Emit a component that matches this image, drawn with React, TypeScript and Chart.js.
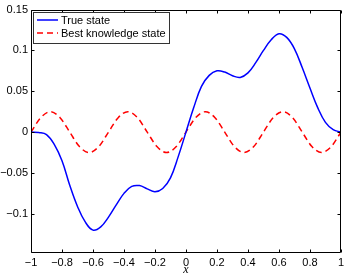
import React, { useEffect, useRef } from "react";
import { Chart, registerables } from "chart.js";

Chart.register(...registerables);

const xTicks = [-1, -0.8, -0.6, -0.4, -0.2, 0, 0.2, 0.4, 0.6, 0.8, 1];
const yTicks = [-0.1, -0.05, 0, 0.05, 0.1, 0.15];

const trueX = [
  -1, -0.95, -0.9, -0.85, -0.8, -0.75, -0.7, -0.65, -0.6, -0.55, -0.5,
  -0.45, -0.4, -0.35, -0.3, -0.25, -0.2, -0.15, -0.1, -0.05, 0,
  0.05, 0.1, 0.15, 0.2, 0.25, 0.3, 0.35, 0.4, 0.45, 0.5,
  0.55, 0.6, 0.65, 0.7, 0.75, 0.8, 0.85, 0.9, 0.95, 1,
];
const trueY = [
  0, -0.0005, -0.003, -0.015, -0.035, -0.065, -0.091, -0.11, -0.12, -0.116, -0.104,
  -0.089, -0.075, -0.0665, -0.0655, -0.0695, -0.073, -0.069, -0.056, -0.03, 0,
  0.03, 0.056, 0.0695, 0.075, 0.0735, 0.069, 0.067, 0.0725, 0.085, 0.1,
  0.113, 0.1205, 0.116, 0.102, 0.079, 0.054, 0.03, 0.012, 0.003, 0,
];

const bestX = [
  -1, -0.9375, -0.875, -0.8125, -0.75, -0.6875, -0.625, -0.5625,
  -0.5, -0.4375, -0.375, -0.3125, -0.25, -0.1875, -0.125, -0.0625,
  0, 0.0625, 0.125, 0.1875, 0.25, 0.3125, 0.375, 0.4375,
  0.5, 0.5625, 0.625, 0.6875, 0.75, 0.8125, 0.875, 0.9375, 1,
];
const bestY = [
  0, 0.0177, 0.025, 0.0177, 0, -0.0177, -0.025, -0.0177,
  0, 0.0177, 0.025, 0.0177, 0, -0.0177, -0.025, -0.0177,
  0, 0.0177, 0.025, 0.0177, 0, -0.0177, -0.025, -0.0177,
  0, 0.0177, 0.025, 0.0177, 0, -0.0177, -0.025, -0.0177, 0,
];

const seriesLabels = ["True state", "Best knowledge state"];
const FONT = "'Liberation Sans', Arial, Helvetica, sans-serif";

const fmt = (v: number) => {
  const s = String(Math.abs(v));
  return v < 0 ? "\u2212" + s : s;
};

const framePlugin = {
  id: "matlabFrame",
  afterDraw(chart: any) {
    const { ctx, chartArea, scales } = chart;
    const { left, right, top, bottom } = chartArea;
    ctx.save();
    ctx.strokeStyle = "#000";
    ctx.lineWidth = 1;
    const L = Math.round(left) + 0.5;
    const R = Math.round(right) - 0.5;
    const T = Math.round(top) + 0.5;
    const B = Math.round(bottom) - 0.5;
    ctx.beginPath();
    ctx.rect(L, T, R - L, B - T);
    ctx.stroke();
    const tl = 3;
    ctx.beginPath();
    xTicks.forEach((v) => {
      const px = Math.round(scales.x.getPixelForValue(v)) + 0.5;
      ctx.moveTo(px, B);
      ctx.lineTo(px, B - tl);
      ctx.moveTo(px, T);
      ctx.lineTo(px, T + tl);
    });
    yTicks.forEach((v) => {
      const py = Math.round(scales.y.getPixelForValue(v)) + 0.5;
      ctx.moveTo(L, py);
      ctx.lineTo(L + tl, py);
      ctx.moveTo(R, py);
      ctx.lineTo(R - tl, py);
    });
    ctx.stroke();

    // legend box
    const bx = 33.5, by = 12.5, bw = 136, bh = 31;
    ctx.fillStyle = "#fff";
    ctx.fillRect(bx, by, bw, bh);
    ctx.strokeStyle = "#333";
    ctx.strokeRect(bx, by, bw, bh);
    const rows = [20, 33];
    chart.data.datasets.forEach((ds: any, i: number) => {
      const y = rows[i];
      ctx.beginPath();
      ctx.strokeStyle = ds.borderColor;
      ctx.lineWidth = ds.borderWidth;
      ctx.setLineDash(ds.borderDash || []);
      ctx.moveTo(37, y);
      ctx.lineTo(58, y);
      ctx.stroke();
      ctx.setLineDash([]);
      ctx.fillStyle = "#000";
      ctx.font = "11px " + FONT;
      ctx.textBaseline = "middle";
      ctx.textAlign = "left";
      ctx.fillText(ds.label, 61, y + 0.5);
    });
    ctx.restore();
  },
};

export default function App() {
  const ref = useRef<HTMLCanvasElement | null>(null);
  useEffect(() => {
    if (!ref.current) return;
    const chart = new Chart(ref.current, {
      type: "line",
      data: {
        datasets: [
          {
            label: seriesLabels[0],
            data: trueX.map((x, i) => ({ x, y: trueY[i] })),
            borderColor: "#0000ff",
            borderWidth: 1.5,
            pointRadius: 0,
            fill: false,
            tension: 0.4,
          },
          {
            label: seriesLabels[1],
            data: bestX.map((x, i) => ({ x, y: bestY[i] })),
            borderColor: "#ff0000",
            borderWidth: 1.5,
            borderDash: [6, 4],
            pointRadius: 0,
            fill: false,
            cubicInterpolationMode: "monotone",
          },
        ],
      },
      options: {
        animation: false,
        responsive: true,
        maintainAspectRatio: false,
        layout: { padding: { top: 9, right: 6, left: 0, bottom: 0 } },
        plugins: { legend: { display: false }, tooltip: { enabled: false } },
        scales: {
          x: {
            type: "linear",
            min: -1,
            max: 1,
            grid: { display: false, drawTicks: false },
            border: { display: false },
            afterBuildTicks: (s: any) => {
              s.ticks = xTicks.map((v) => ({ value: v }));
            },
            afterFit: (s: any) => {
              s.height = 24;
            },
            ticks: {
              padding: 3,
              color: "#000",
              font: { family: FONT, size: 11 },
              maxRotation: 0,
              autoSkip: false,
              callback: (v: any) => fmt(Number(v)),
            },
            title: {
              display: true,
              text: "x",
              color: "#000",
              padding: { top: 0, bottom: 0 },
              font: { family: "'Liberation Serif', 'DejaVu Serif', serif", size: 12, style: "italic" },
            },
          },
          y: {
            type: "linear",
            min: -0.148,
            max: 0.15,
            grid: { display: false, drawTicks: false },
            border: { display: false },
            afterBuildTicks: (s: any) => {
              s.ticks = yTicks.map((v) => ({ value: v }));
            },
            afterFit: (s: any) => {
              s.width = 31;
            },
            ticks: {
              padding: 3,
              color: "#000",
              font: { family: FONT, size: 11 },
              autoSkip: false,
              callback: (v: any) => fmt(Number(v)),
            },
          },
        },
      },
      plugins: [framePlugin],
    });
    return () => chart.destroy();
  }, []);
  return (
    <div style={{ position: "fixed", left: 0, top: 0, width: 347, height: 277, background: "#fff" }}>
      <canvas ref={ref} />
    </div>
  );
}
